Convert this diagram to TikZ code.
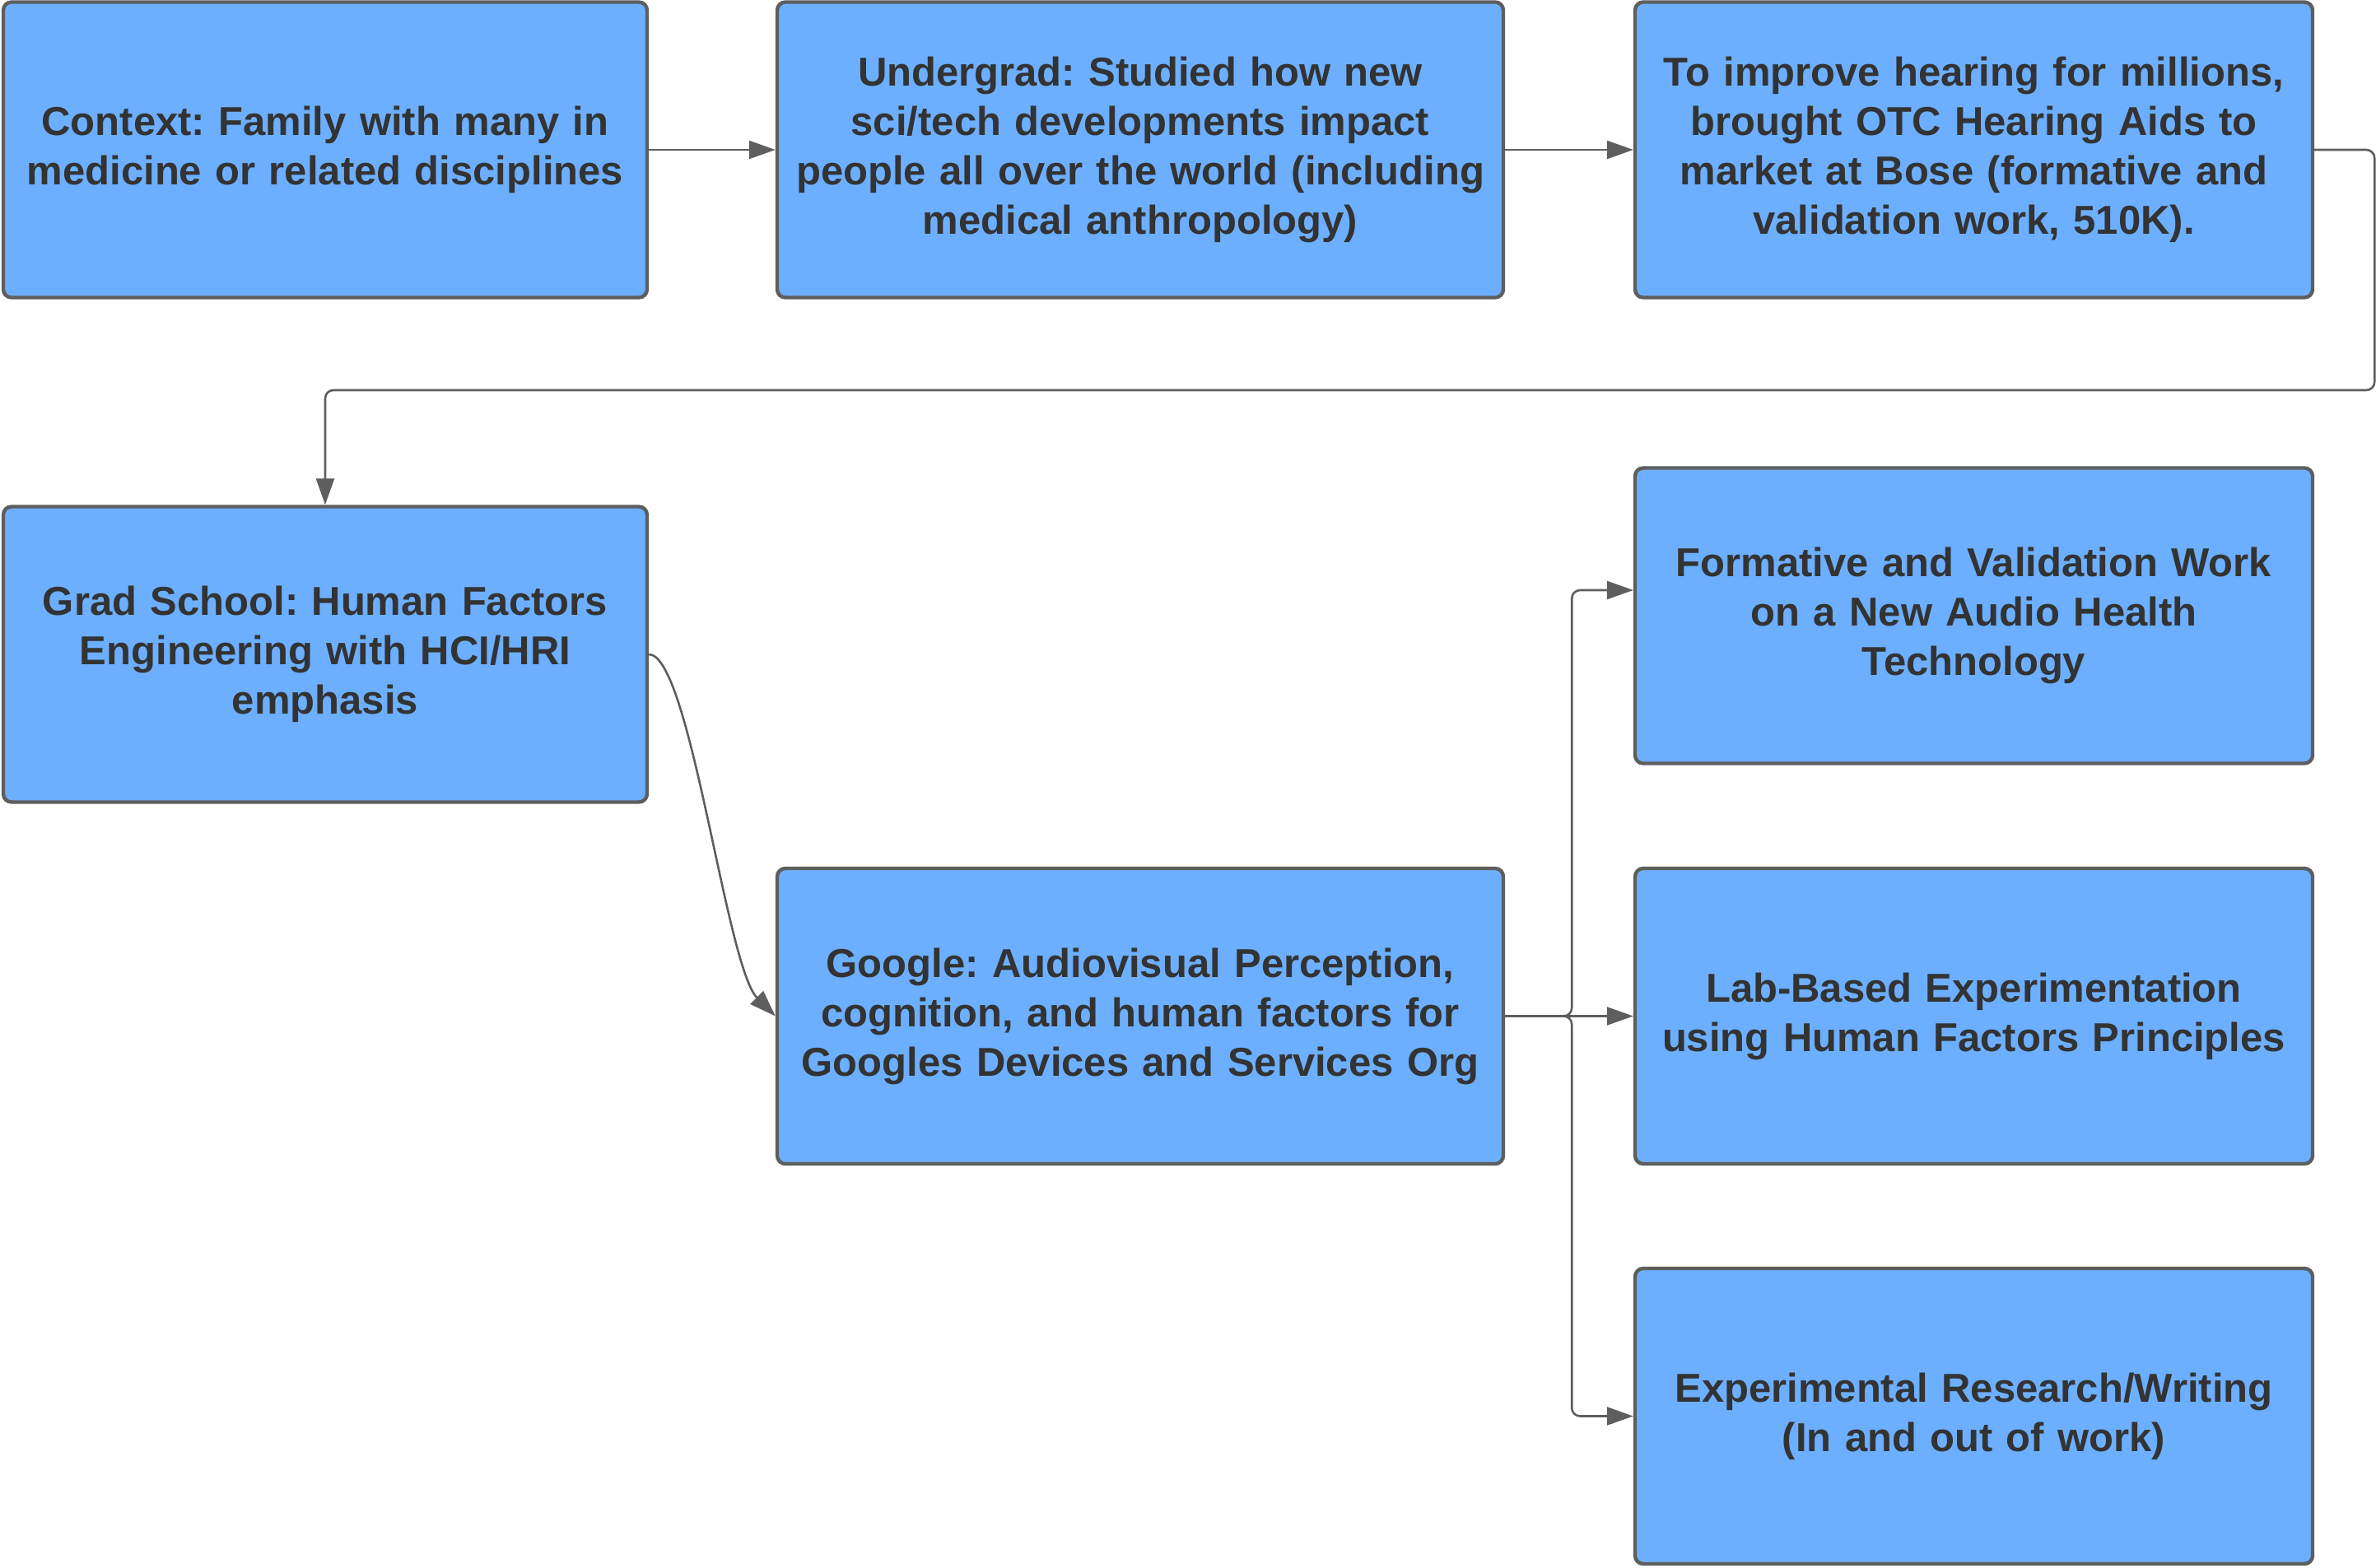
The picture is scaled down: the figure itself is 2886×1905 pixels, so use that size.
\documentclass[tikz,border=0pt]{standalone}
\usepackage{fontspec}
\setmainfont{Liberation Sans}
\usetikzlibrary{arrows.meta}
\definecolor{boxblue}{HTML}{6DAFFF}
\definecolor{edgegray}{HTML}{5E5E5E}
\definecolor{inkgray}{HTML}{333333}
\frenchspacing

\begin{document}
\begin{tikzpicture}[x=0.5pt, y=-0.5pt,
    box/.style={draw=edgegray, line width=2.2pt, fill=boxblue, rounded corners=5pt,
        text=inkgray, font=\fontsize{24.5}{30}\selectfont\bfseries, align=center, inner sep=4pt,
        minimum height=179.5pt},
    narrowbox/.style={box, minimum width=391pt, text width=375pt},
    widebox/.style={box, minimum width=441pt, text width=425pt},
    sidebox/.style={box, minimum width=411.5pt, text width=395pt},
    conn/.style={draw=edgegray, line width=1.3pt, rounded corners=5pt,
        -{Triangle[length=16pt, width=11pt]}}]
    \useasboundingbox (0,0) rectangle (2886,1905);

    % Top row
    \node[narrowbox] (ctx) at (395,182) {Context: Family with many in\\medicine or related disciplines};
    \node[widebox] (ugrad) at (1385,182) {Undergrad: Studied how new\\sci/tech developments impact\\people all over the world (including\\medical anthropology)};
    \node[sidebox] (bose) at (2397.5,182) {To improve hearing for millions,\\brought OTC Hearing Aids to\\market at Bose (formative and\\validation work, 510K).};

    % Grad school and Google
    \node[narrowbox] (grad) at (395,795) {Grad School: Human Factors\\Engineering with HCI/HRI\\emphasis};
    \node[widebox] (google) at (1385,1234.5) {Google: Audiovisual Perception,\\cognition, and human factors for\\Googles Devices and Services Org};

    % Right column
    \node[sidebox] (formative) at (2397.5,748) {Formative and Validation Work\\on a New Audio Health\\Technology};
    \node[sidebox] (lab) at (2397.5,1234.5) {Lab-Based Experimentation\\using Human Factors Principles};
    \node[sidebox] (research) at (2397.5,1720.5) {Experimental Research/Writing\\(In and out of work)};

    % Connectors
    \draw[conn] (ctx) -- (ugrad);
    \draw[conn] (ugrad) -- (bose);
    \draw[conn] (bose.east) -- ++(73,0) -- ++(0,292) -| (grad.north);
    \draw[conn] (grad.east) .. controls +(50,0) and +(-60,-60) .. (google.west);
    % Branches out of Google
    \draw[conn] (google.east) -- ++(81,0) |- ([yshift=15.5pt]formative.west);
    \draw[conn] (google) -- (lab);
    \draw[conn] (google.east) -- ++(81,0) |- (research.west);
\end{tikzpicture}
\end{document}
